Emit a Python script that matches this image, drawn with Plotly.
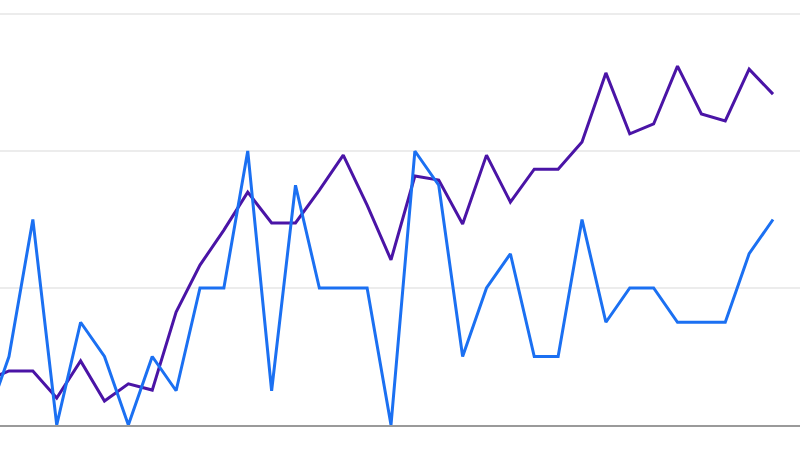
import plotly.graph_objects as go

x_index = list(range(34))

blue_values = [0, 2, 6, 0, 3, 2, 0, 2, 1, 4, 4, 8, 1, 7, 4, 4, 4, 0, 8, 7,
               2, 4, 5, 2, 2, 6, 3, 4, 4, 3, 3, 3, 5, 6]

purple_values = [1.28, 1.58, 1.58, 0.79, 1.87, 0.70, 1.20, 1.02, 3.30, 4.67,
                 5.69, 6.80, 5.90, 5.90, 6.86, 7.88, 6.42, 4.82, 7.27, 7.15,
                 5.87, 7.88, 6.51, 7.47, 7.47, 8.26, 10.28, 8.50, 8.79, 10.48,
                 9.08, 8.88, 10.39, 9.66]

fig = go.Figure()
fig.add_trace(go.Scatter(x=x_index, y=purple_values, mode="lines",
                         line=dict(color="#4a14a6", width=3), showlegend=False))
fig.add_trace(go.Scatter(x=x_index, y=blue_values, mode="lines",
                         line=dict(color="#1b70f2", width=3), showlegend=False))

fig.update_layout(
    width=800, height=450,
    margin=dict(l=0, r=0, t=0, b=25),
    paper_bgcolor="white", plot_bgcolor="white",
    xaxis=dict(range=[0.624, 34.13], showgrid=False, zeroline=False,
               showticklabels=False, ticks="", showline=True,
               linecolor="#9a9a9a", linewidth=2),
    yaxis=dict(range=[0, 12.409], tickvals=[4, 8, 12], showgrid=True,
               gridcolor="#ececec", gridwidth=2, zeroline=False,
               showticklabels=False, ticks=""),
)

fig.write_html("out.html",
               config={"displayModeBar": False},
               post_script="document.body.style.margin='0';document.body.style.overflow='hidden';")
